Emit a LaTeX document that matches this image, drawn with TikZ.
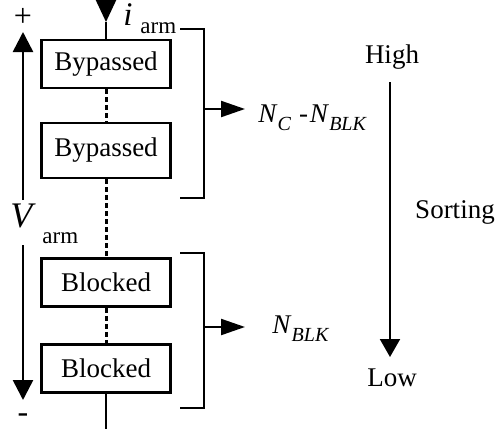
\documentclass[tikz,border=0pt]{standalone}
\usepackage{fontspec}
\setmainfont{Liberation Serif}
\usetikzlibrary{arrows.meta}

\newcommand{\subtxt}[1]{\raisebox{-4pt}{\fontsize{10}{12}\selectfont\itshape #1}}

\begin{document}
\begin{tikzpicture}[x=0.5pt, y=-0.5pt]
  % Styles
  \tikzstyle{cell} = [rectangle, draw, line width=1.3pt, minimum width=64.5pt, minimum height=24pt, inner sep=0pt, font=\fontsize{13.5}{16}\selectfont]
  \tikzstyle{wire} = [line width=1.1pt]
  \tikzstyle{dots} = [line width=1.5pt, dash pattern=on 2.5pt off 1.5pt]
  \tikzstyle{arrow} = [-{Triangle[length=10pt, width=10pt]}, line width=1.3pt]
  \tikzstyle{smallarrow} = [-{Triangle[length=12pt, width=8pt]}, line width=1.1pt]
  \tikzstyle{txt} = [inner sep=0pt, font=\fontsize{13.5}{16}\selectfont]
  \tikzstyle{big} = [inner sep=0pt, anchor=base west, font=\fontsize{18}{20}\selectfont\itshape]
  \tikzstyle{sub} = [inner sep=0pt, anchor=base west, font=\fontsize{11.5}{13}\selectfont]

  \useasboundingbox (0,0) rectangle (499,435);

  % Cells
  \node[cell] (bypA) at (106,64) {Bypassed};
  \node[cell, minimum height=27.5pt] (bypB) at (106,150.5) {Bypassed};
  \node[cell] (blkA) at (106,282.5) {Blocked};
  \node[cell] (blkB) at (106,368.5) {Blocked};

  % Arm wiring
  \coordinate (armtop) at (106,0);
  \coordinate (armin) at (106,22);
  \coordinate (armbot) at (106,429);
  \draw[wire, -{Triangle[length=11pt, width=10pt]}] (armtop) -- (armin);
  \draw[wire] (armin) -- (bypA.north);
  \draw[dots] (bypA) -- (bypB);
  \draw[dots] (bypB) -- (blkA);
  \draw[dots] (blkA) -- (blkB);
  \draw[wire] (blkB) -- (armbot);

  % Current label
  \node[big, font=\fontsize{16.5}{18}\selectfont\itshape] (icur) at (123,25) {i};
  \node[sub] (icursub) at (140,33) {arm};

  % Arm voltage
  \coordinate (vupS) at (23,200);
  \coordinate (vupE) at (23,32);
  \coordinate (vdnS) at (23,245);
  \coordinate (vdnE) at (23,400);
  \draw[arrow] (vupS) -- (vupE);
  \draw[arrow] (vdnS) -- (vdnE);
  \node[txt, font=\fontsize{16}{18}\selectfont] (plus) at (23,17) {+};
  \node[txt, font=\fontsize{16}{18}\selectfont] (minus) at (23,418) {-};
  \node[big] (volt) at (10,227) {V};
  \node[sub] (voltsub) at (42,243) {arm};

  % Brackets
  \coordinate (brAt) at (180,29);
  \coordinate (brAm) at (204,109);
  \coordinate (brAb) at (180,198);
  \coordinate (brAo) at (245,109);
  \draw[wire] (brAt) -| (brAm) |- (brAb);
  \draw[smallarrow] (brAm) -- (brAo);
  \coordinate (brBt) at (180,253);
  \coordinate (brBm) at (204,327);
  \coordinate (brBb) at (180,408);
  \coordinate (brBo) at (245,327);
  \draw[wire] (brBt) -| (brBm) |- (brBb);
  \draw[smallarrow] (brBm) -- (brBo);

  % Counts
  \node[txt, anchor=base west] (nbyp) at (258,122) {\textit{N}\subtxt{C}\hspace{4pt}-\hspace{1pt}\textit{N}\subtxt{BLK}};
  \node[txt, anchor=base west] (nblk) at (272,333) {\textit{N}\subtxt{BLK}};

  % Sorting
  \node[txt] (high) at (392,57) {High};
  \node[txt] (low) at (392,378) {Low};
  \coordinate (sortS) at (390,82);
  \coordinate (sortE) at (390,357);
  \draw[-{Triangle[length=9pt, width=10pt]}, line width=1pt] (sortS) -- (sortE);
  \node[txt] (sort) at (455,212) {Sorting};
\end{tikzpicture}
\end{document}
